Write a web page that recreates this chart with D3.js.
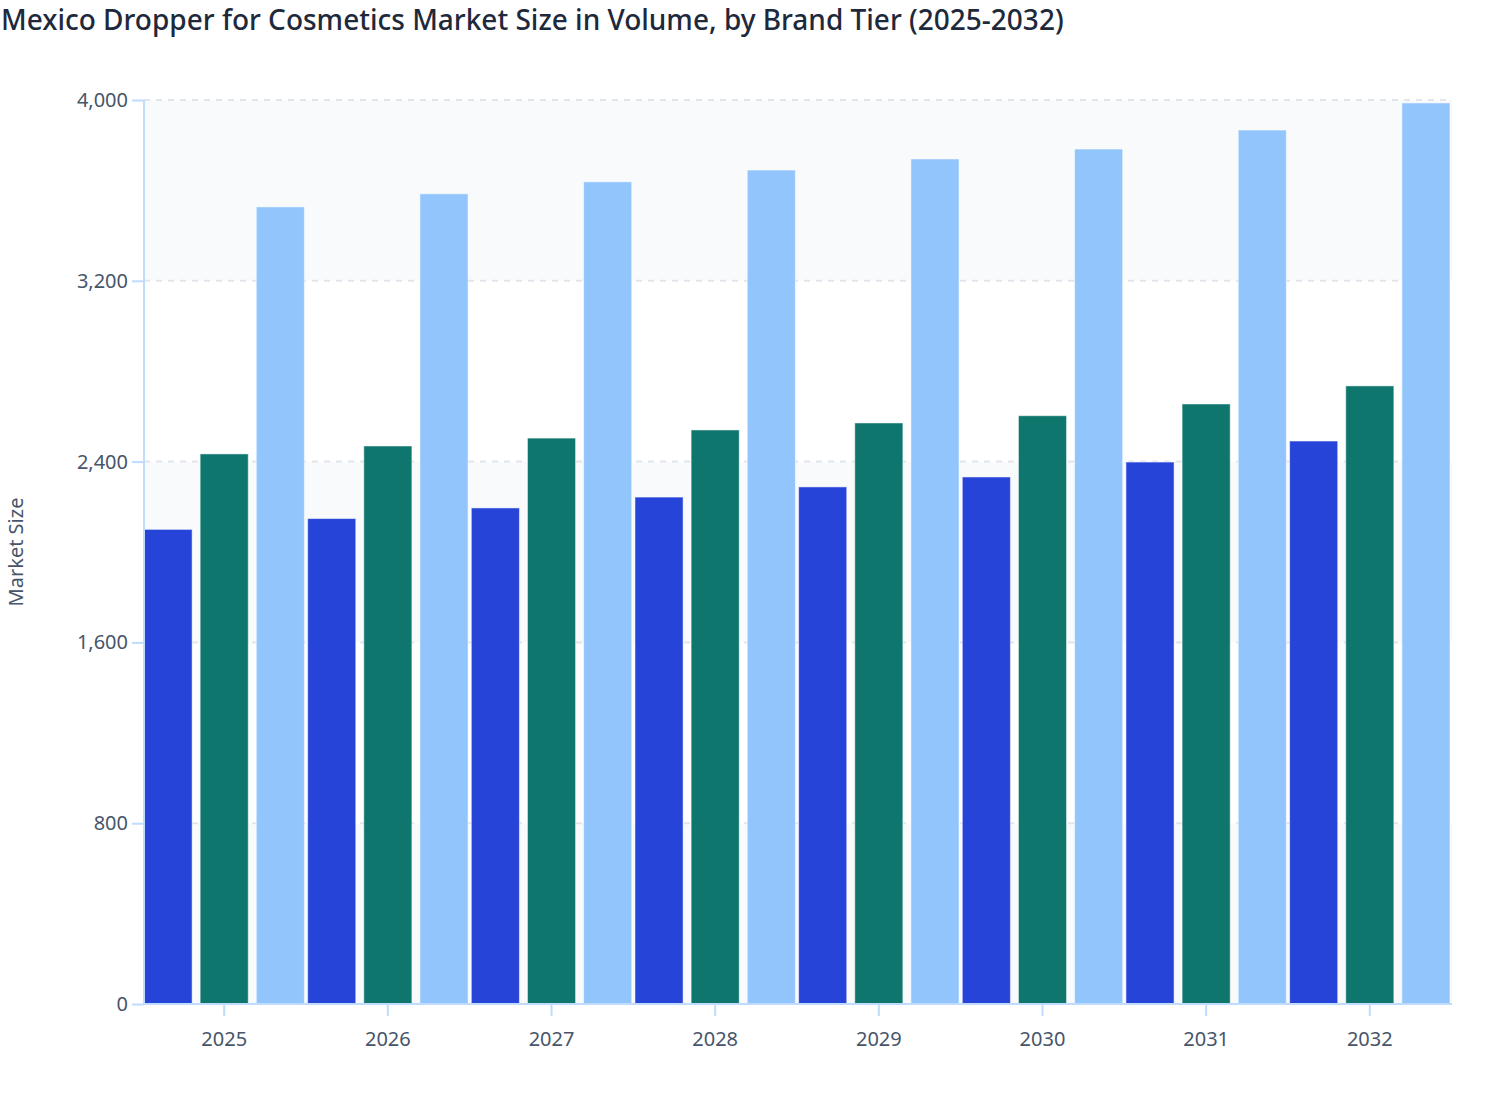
<!DOCTYPE html>
<html>
<head>
<meta charset="utf-8">
<script src="https://cdn.jsdelivr.net/npm/d3@7"></script>
<style>
  body { margin: 0; background: #fff; font-family: "Noto Sans", "Open Sans", sans-serif; }
</style>
</head>
<body>
<svg id="chart" width="1508" height="1120"></svg>
<script>
// * chart data
const years = ["2025", "2026", "2027", "2028", "2029", "2030", "2031", "2032"];
const tiers = ["Mass", "Masstige", "Premium"];
const massValues = [2100, 2148, 2195, 2243, 2288, 2332, 2398, 2491];
const masstigeValues = [2434, 2469, 2504, 2540, 2571, 2603, 2655, 2735];
const premiumValues = [3527, 3585, 3638, 3690, 3739, 3783, 3867, 3987];
const yTicks = [0, 800, 1600, 2400, 3200, 4000];

const seriesValues = [massValues, masstigeValues, premiumValues];
const colors = ["#2744d9", "#0f766e", "#93c5fd"];

const svg = d3.select("#chart");
const margin = { top: 100, right: 58, bottom: 116, left: 144 };
const width = 1508 - margin.left - margin.right;
const height = 1120 - margin.top - margin.bottom;

const rows = years.map((year, i) => ({
  year,
  values: tiers.map((tier, s) => ({ tier, value: seriesValues[s][i] })),
}));

const xScale = d3.scaleBand().domain(years).range([0, width]).paddingInner(0.02).paddingOuter(0);
const xInner = d3.scaleBand().domain(tiers).range([0, xScale.bandwidth()]).paddingInner(0.143);
const yScale = d3.scaleLinear().domain([0, 4000]).range([height, 0]);
const colorScale = d3.scaleOrdinal().domain(tiers).range(colors);

// * title
svg
  .append("text")
  .attr("x", 1)
  .attr("y", 30)
  .style("font-size", "28px")
  .style("font-weight", "500")
  .style("fill", "#1e293b")
  .text("Mexico Dropper for Cosmetics Market Size in Volume, by Brand Tier (2025-2032)");

const plot = svg.append("g").attr("transform", `translate(${margin.left},${margin.top})`);

// * alternating bands
const bands = d3.pairs(yTicks).filter((_, i) => i % 2 === 0);
plot
  .selectAll("rect.band")
  .data(bands)
  .enter()
  .append("rect")
  .attr("class", "band")
  .attr("x", 0)
  .attr("width", width + 2)
  .attr("y", (d) => yScale(d[1]))
  .attr("height", (d) => yScale(d[0]) - yScale(d[1]))
  .style("fill", "#f8fafc");

// * grid lines
plot
  .selectAll("line.grid")
  .data(yTicks.filter((t) => t > 0))
  .enter()
  .append("line")
  .attr("class", "grid")
  .attr("x1", 0)
  .attr("x2", width)
  .attr("y1", (d) => yScale(d))
  .attr("y2", (d) => yScale(d))
  .style("stroke", "#e2e5ea")
  .style("stroke-width", 2)
  .style("stroke-dasharray", "6,6");

// * bars
const groups = plot
  .selectAll("g.year")
  .data(rows)
  .enter()
  .append("g")
  .attr("class", "year")
  .attr("transform", (d) => `translate(${xScale(d.year)},0)`);

groups
  .selectAll("rect")
  .data((d) => d.values)
  .enter()
  .append("rect")
  .attr("x", (d) => xInner(d.tier))
  .attr("width", xInner.bandwidth())
  .attr("y", (d) => yScale(d.value))
  .attr("height", (d) => height - yScale(d.value))
  .style("fill", (d) => colorScale(d.tier))
  .style("stroke", "rgba(255,255,255,0.5)")
  .style("stroke-width", 1);

// * y axis
const yAxis = plot
  .append("g")
  .call(d3.axisLeft(yScale).tickValues(yTicks).tickSize(12).tickPadding(4).tickFormat(d3.format(",")));
yAxis.select(".domain").style("stroke", "#bfdbfe").style("stroke-width", 2).attr("d", `M0,${height}V0`);
yAxis.selectAll(".tick line").style("stroke", "#bfdbfe").style("stroke-width", 2);
yAxis
  .selectAll(".tick text")
  .style("font-family", "'Noto Sans', sans-serif")
  .style("font-size", "20px")
  .style("fill", "#475569");

// * x axis
const xAxis = plot
  .append("g")
  .attr("transform", `translate(0,${height})`)
  .call(d3.axisBottom(xScale).tickSize(12).tickPadding(16));
xAxis.select(".domain").style("stroke", "#bfdbfe").style("stroke-width", 2).attr("d", `M0,0H${width + 2}`);
xAxis.selectAll(".tick line").style("stroke", "#bfdbfe").style("stroke-width", 2);
xAxis
  .selectAll(".tick text")
  .style("font-family", "'Noto Sans', sans-serif")
  .style("font-size", "20px")
  .style("fill", "#475569");

// * y axis title
svg
  .append("text")
  .attr("transform", `translate(23,${margin.top + height / 2}) rotate(-90)`)
  .attr("text-anchor", "middle")
  .style("font-size", "20px")
  .style("fill", "#475569")
  .text("Market Size");
</script>
</body>
</html>
